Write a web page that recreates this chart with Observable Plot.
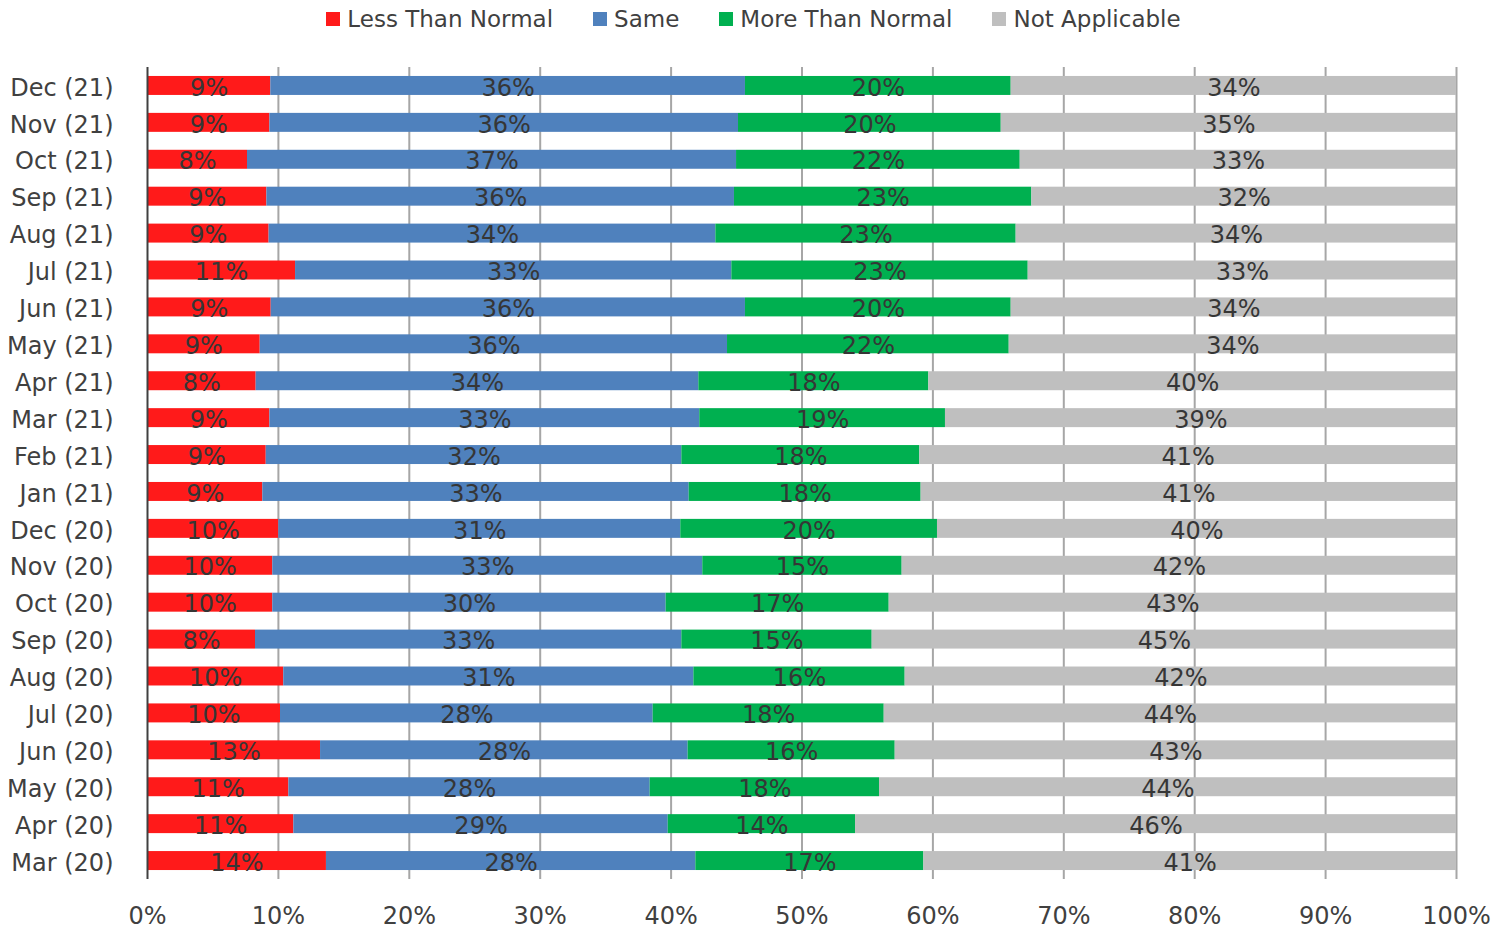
<!DOCTYPE html>
<html>
<head>
<meta charset="utf-8">
<script src="https://cdn.jsdelivr.net/npm/d3@7"></script>
<script src="https://cdn.jsdelivr.net/npm/@observablehq/plot@0.6"></script>
<style>
  html, body { margin: 0; padding: 0; background: #ffffff; }
  body { font-family: "DejaVu Sans", sans-serif; width: 1507px; height: 931px; overflow: hidden; }
  #legend {
    height: 38px; display: flex; justify-content: center; align-items: center;
    gap: 40px; font-size: 23px; color: #404040;
  }
  #legend .item { display: flex; align-items: center; }
  #legend .swatch { width: 14px; height: 14px; margin-right: 7px; }
  #chart svg { display: block; }
</style>
</head>
<body>
<div id="legend"></div>
<div id="chart"></div>
<script>
// Survey months, top row first
const months = [
  "Dec (21)", "Nov (21)", "Oct (21)", "Sep (21)", "Aug (21)", "Jul (21)",
  "Jun (21)", "May (21)", "Apr (21)", "Mar (21)", "Feb (21)", "Jan (21)",
  "Dec (20)", "Nov (20)", "Oct (20)", "Sep (20)", "Aug (20)", "Jul (20)",
  "Jun (20)", "May (20)", "Apr (20)", "Mar (20)"
];

const series = ["Less Than Normal", "Same", "More Than Normal", "Not Applicable"];
const colors = ["#ff1a1a", "#4f81bd", "#00b050", "#bfbfbf"];

// Share of respondents (%) per month, same order as months
const lessThanNormal = [9.42, 9.35, 7.64, 9.12, 9.29, 11.31, 9.45, 8.61, 8.30, 9.35, 9.07, 8.81,
                        10.03, 9.57, 9.57, 8.25, 10.41, 10.16, 13.22, 10.80, 11.18, 13.67];
const same           = [36.26, 35.80, 37.36, 35.72, 34.13, 33.33, 36.23, 35.70, 33.82, 32.84, 31.75, 32.57,
                        30.71, 32.85, 30.05, 32.57, 31.33, 28.47, 28.08, 27.60, 28.60, 28.22];
const moreThanNormal = [20.30, 20.07, 21.67, 22.72, 22.94, 22.64, 20.30, 21.52, 17.57, 18.77, 18.18, 17.72,
                        19.61, 15.23, 17.04, 14.54, 16.14, 17.65, 15.82, 17.52, 14.31, 17.42];
const notApplicable  = [34.02, 34.78, 33.33, 32.44, 33.64, 32.72, 34.02, 34.17, 40.31, 39.04, 41.00, 40.90,
                        39.65, 42.35, 43.34, 44.64, 42.12, 43.72, 42.88, 44.08, 45.91, 40.69];

const xTicks = [0, 10, 20, 30, 40, 50, 60, 70, 80, 90, 100];

const seriesValues = [lessThanNormal, same, moreThanNormal, notApplicable];
const rows = months.flatMap((month, i) =>
  series.map((s, j) => ({ month, series: s, value: seriesValues[j][i] }))
);

// Legend row
const legend = document.getElementById("legend");
series.forEach((s, j) => {
  const item = document.createElement("div");
  item.className = "item";
  const sw = document.createElement("span");
  sw.className = "swatch";
  sw.style.background = colors[j];
  const label = document.createElement("span");
  label.textContent = s;
  item.append(sw, label);
  legend.append(item);
});

const chart = Plot.plot({
  width: 1507,
  height: 893,
  marginTop: 29,
  marginBottom: 52,
  marginLeft: 147,
  marginRight: 51,
  style: { fontFamily: "DejaVu Sans, sans-serif", fontSize: "24px", color: "#404040", background: "#ffffff" },
  x: { domain: [0, 100], label: null },
  y: { domain: months, paddingInner: 0.486, paddingOuter: 0.243, round: false, label: null },
  color: { domain: series, range: colors },
  marks: [
    Plot.ruleX(xTicks.slice(1), { stroke: "#a6a6a6", strokeWidth: 2 }),
    Plot.barX(rows, Plot.stackX({ x: "value", y: "month", fill: "series", order: series })),
    Plot.ruleX([0], { stroke: "#404040", strokeWidth: 2 }),
    Plot.text(rows, Plot.stackX({
      x: "value", y: "month", z: "series", order: series,
      text: d => Math.round(d.value) + "%",
      fill: "#363636", fontSize: 24, dy: 2
    })),
    Plot.axisX({ ticks: xTicks, tickSize: 0, tickPadding: 27, tickFormat: d => d + "%", fontSize: 24, label: null, fill: "#404040" }),
    Plot.axisY({ tickSize: 0, tickPadding: 34, dy: 2, fontSize: 24, label: null, fill: "#404040" })
  ]
});
document.getElementById("chart").append(chart);
</script>
</body>
</html>
